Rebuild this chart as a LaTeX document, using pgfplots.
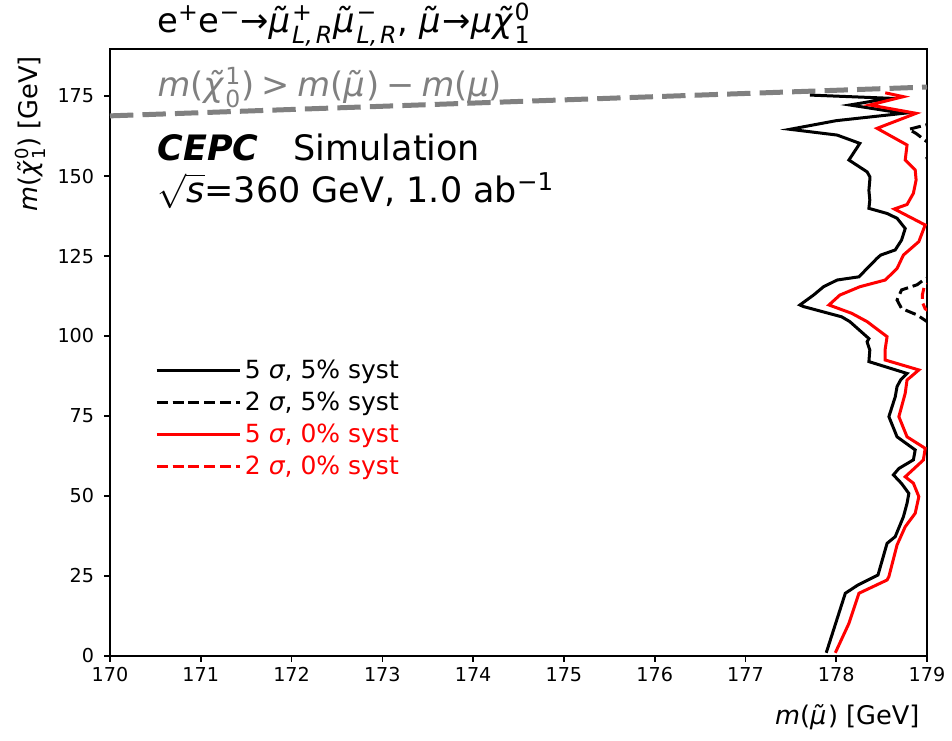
\documentclass[border=0pt]{standalone}
\usepackage{fontspec}
\setmainfont{DejaVu Sans}
\usepackage{amsmath}
\usepackage{pgfplots}
\pgfplotsset{compat=1.18}
\usetikzlibrary{calc}
\definecolor{mygray}{rgb}{0.5,0.5,0.5}
\pgfplotsset{
  legend image code/.code={\path (0pt,0pt) -- (50pt,0pt); \draw[#1] (0pt,0pt) -- (36pt,0pt);},
}
\newcommand{\bigf}{\fontsize{21}{25}\selectfont}
\newcommand{\LR}{\text{\itshape L,\kern0.12em R}}
\begin{document}
\begin{tikzpicture}
\begin{axis}[
  scale only axis,
  width=490.2pt, height=364.2pt,
  xmin=170, xmax=179, ymin=0, ymax=189.7,
  xtick={170,171,...,179},
  ytick={0,25,...,175},
  tick align=outside,
  xtick pos=bottom, ytick pos=left,
  major tick length=3.5pt,
  every tick/.style={black, line width=1pt},
  axis line style={line width=1pt},
  tick label style={font=\fontsize{11.5}{13}\selectfont},
  yticklabel style={xshift=-2.5pt},
  /pgf/number format/assume math mode=true,
  /pgf/number format/.cd, 1000 sep={}, /pgfplots/.cd,
  clip mode=individual,
  unbounded coords=jump,
  xlabel={\textit{m}(\textit{μ̃}) [GeV]},
  ylabel={\textit{m}(\textit{χ̃}$^{\text{0}}_{\text{1}}$) [GeV]},
  every axis x label/.style={at={(rel axis cs:1,0)}, anchor=base east, yshift=-41.2pt, xshift=-1pt, font=\fontsize{15.4}{18}\selectfont},
  every axis y label/.style={at={(rel axis cs:0,1)}, rotate=90, anchor=base east, yshift=43.5pt, xshift=-0.8pt, font=\fontsize{15.4}{18}\selectfont},
  legend style={draw=none, fill=none, at={(rel axis cs:0.051,0.5)}, anchor=north west,
    font=\fontsize{15}{18}\selectfont, row sep=2.7pt, inner sep=2pt},
  legend cell align=left,
]
\addplot[mygray, line width=3pt, dash pattern=on 14pt off 5.5pt, forget plot] coordinates {(170,168.8) (179,177.8)};

\addplot[black, line width=1.8pt] coordinates {
(177.89,1.0) (178.10,19.6) (178.24,22.2) (178.46,25.3) (178.56,35.2) (178.65,37.3)
(178.74,43.5) (178.78,47.7) (178.80,50.8) (178.72,53.9) (178.63,56.6) (178.69,58.6)
(178.85,61.3) (178.87,64.4) (178.67,68.5) (178.58,74.8) (178.65,81.0) (178.67,84.2)
(178.71,86.3) (178.78,88.3) (178.36,92.0) (178.37,95.6) (178.34,98.2) (178.36,99.2)
(178.15,104.5) (178.06,106.0) (177.64,109.2) (177.60,109.7) (177.75,112.8) (177.86,115.4)
(178.01,117.5) (178.25,118.5) (178.45,124.3) (178.49,125.3) (178.65,126.9) (178.72,130.0)
(178.76,133.6) (178.67,136.8) (178.56,138.3) (178.36,139.9) (178.37,142.5) (178.36,145.5)
(178.37,148.75) (178.37,149.8) (178.34,151.3) (178.14,155.0) (178.26,160.2) (178.01,162.8)
(177.49,164.6) (178.00,167.3) (178.74,169.6) (178.15,172.2) (178.59,174.3) (177.71,175.3)
};
\addlegendentry{5 \textit{σ}, 5\% syst}

\addplot[black, line width=1.8pt, dash pattern=on 6.6pt off 2.9pt] coordinates {
(179.1,166.8) (178.98,165.9) (178.80,164.6) (178.88,163.3) (179.0,160.7) (179.1,159.5)
(nan,nan)
(179.1,156.5) (178.98,155.3) (179.1,154.0)
(nan,nan)
(179.1,119.5) (178.96,117.5) (178.89,116.0) (178.72,114.4) (178.67,111.25) (178.72,108.6)
(178.89,106.6) (179.0,104.5) (179.1,103.5)
};
\addlegendentry{2 \textit{σ}, 5\% syst}

\addplot[red, line width=1.8pt] coordinates {
(177.99,1.0) (178.14,10.2) (178.25,19.6) (178.56,23.75) (178.58,24.8) (178.67,34.7)
(178.76,40.4) (178.87,44.6) (178.91,49.8) (178.85,54.0) (178.76,56.0) (178.96,61.25)
(178.98,64.9) (178.78,68.5) (178.69,74.8) (178.76,82.1) (178.78,86.25) (178.91,89.4)
(178.54,92.5) (178.54,96.0) (178.56,99.8) (178.34,104.5) (178.17,107.1) (177.92,109.7)
(178.04,112.8) (178.26,115.4) (178.54,117.5) (178.67,121.1) (178.74,125.3) (178.91,129.5)
(178.98,134.7) (178.64,139.7) (178.78,141.1) (178.85,144.6) (178.88,148.75) (178.87,151.9)
(178.80,153.9) (178.76,155.0) (178.78,159.7) (178.45,164.9) (178.88,169.6) (178.37,172.2)
(178.74,174.8) (178.54,176.0)
};
\addlegendentry{\textcolor{red}{5 \textit{σ}, 0\% syst}}

\addplot[red, line width=1.8pt, dash pattern=on 6.6pt off 2.9pt] coordinates {
(179.1,118.0) (178.97,115.5) (178.95,113.0) (178.95,110.5) (178.98,108.5) (179.1,106.5)
};
\addlegendentry{\textcolor{red}{2 \textit{σ}, 0\% syst}}

\node[anchor=base west, font=\fontsize{20.3}{24}\selectfont, inner sep=0pt] at (rel axis cs:0.0575,1) [yshift=9.6pt]
  {e$^{\text{+}}$e$^{\text{−}}$→\textit{μ̃}$^{\text{+}}_{\LR}$\textit{μ̃}$^{\text{−}}_{\LR}$, \textit{μ̃}→\textit{μχ̃}$^{\text{0}}_{\text{1}}$};
\node[anchor=base west, font=\fontsize{20.2}{24}\selectfont, inner sep=0pt, text=mygray] at (axis cs:170.52,174.7)
  {\textit{m}(\textit{χ̃}$^{\text{1}}_{\text{0}}$)\hspace{0.22em}>\hspace{0.22em}\textit{m}(\textit{μ̃})\hspace{0.2em}−\hspace{0.2em}\textit{m}(\textit{μ})};
\node[anchor=base west, font=\bigf, inner sep=0pt] at (axis cs:170.52,154.7) {\bfseries\itshape CEPC};
\node[anchor=base west, font=\bigf, inner sep=0pt] at (axis cs:172.02,154.7) {Simulation};
\node[anchor=base west, font=\bigf, inner sep=0pt] at (axis cs:170.52,141.6)
  {$\sqrt{\text{\itshape s}}$=360 GeV, 1.0 ab$^{\text{−1}}$};
\end{axis}
\pgfresetboundingbox
\path[use as bounding box] ($(current axis.south west)+(-66pt,-50.4pt)$) rectangle ($(current axis.north east)+(15pt,29.4pt)$);
\end{tikzpicture}
\end{document}
